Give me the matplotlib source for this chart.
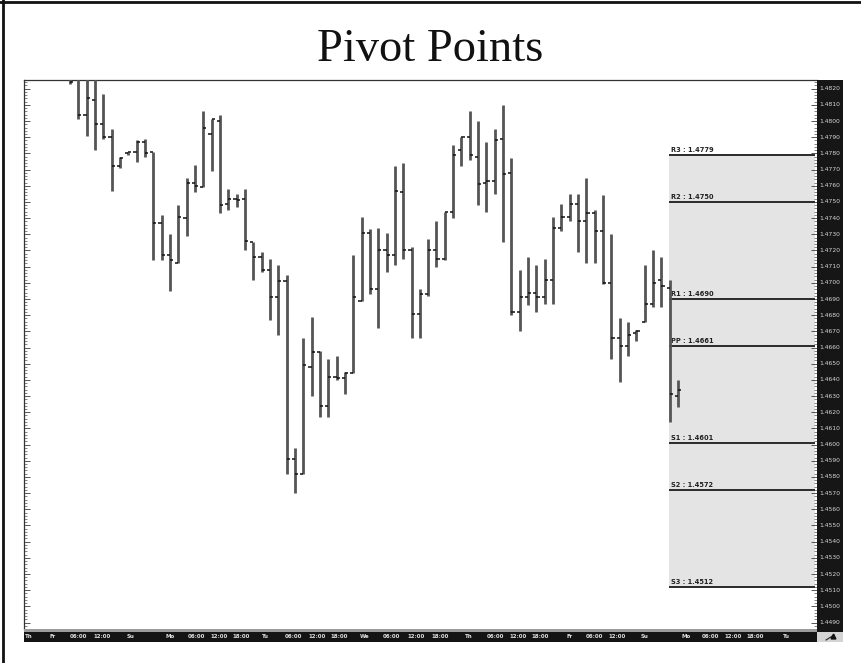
import matplotlib
matplotlib.use('Agg')
import matplotlib.pyplot as plt
import numpy as np
from matplotlib.lines import Line2D
from matplotlib.ticker import MultipleLocator

# ---------------- data ----------------
opens = [1.4828, 1.4830, 1.4804, 1.4813, 1.4798, 1.4790, 1.4772, 1.4780, 1.4781, 1.4787,
         1.4781, 1.4737, 1.4717, 1.4712, 1.4740, 1.4762, 1.4759, 1.4792, 1.4800, 1.4749,
         1.4752, 1.4752, 1.4725, 1.4716, 1.4708, 1.4691, 1.4701, 1.4591, 1.4582, 1.4648,
         1.4657, 1.4624, 1.4642, 1.4641, 1.4644, 1.4689, 1.4731, 1.4696, 1.4720, 1.4717,
         1.4756, 1.4720, 1.4681, 1.4693, 1.4720, 1.4715, 1.4744, 1.4782, 1.4790, 1.4778,
         1.4762, 1.4763, 1.4789, 1.4768, 1.4682, 1.4691, 1.4694, 1.4691, 1.4702, 1.4734,
         1.4741, 1.4749, 1.4738, 1.4743, 1.4732, 1.4700, 1.4666, 1.4661, 1.4669, 1.4676,
         1.4687, 1.4702, 1.4697, 1.4630]
highs = [1.4835, 1.4836, 1.4835, 1.4832, 1.4817, 1.4795, 1.4778, 1.4781, 1.4788, 1.4789,
         1.4781, 1.4742, 1.4730, 1.4748, 1.4765, 1.4773, 1.4806, 1.4801, 1.4804, 1.4758,
         1.4755, 1.4758, 1.4725, 1.4719, 1.4715, 1.4711, 1.4705, 1.4598, 1.4666, 1.4679,
         1.4658, 1.4653, 1.4655, 1.4645, 1.4717, 1.4741, 1.4733, 1.4734, 1.4731, 1.4772,
         1.4774, 1.4722, 1.4696, 1.4727, 1.4738, 1.4744, 1.4785, 1.4790, 1.4806, 1.4800,
         1.4787, 1.4795, 1.4810, 1.4777, 1.4708, 1.4716, 1.4711, 1.4715, 1.4741, 1.4749,
         1.4755, 1.4755, 1.4765, 1.4745, 1.4754, 1.4730, 1.4678, 1.4676, 1.4671, 1.4711,
         1.4720, 1.4716, 1.4702, 1.4640]
lows = [1.4823, 1.4801, 1.4791, 1.4782, 1.4789, 1.4757, 1.4771, 1.4779, 1.4775, 1.4778,
        1.4714, 1.4714, 1.4695, 1.4712, 1.4729, 1.4756, 1.4759, 1.4769, 1.4743, 1.4745,
        1.4747, 1.4720, 1.4702, 1.4707, 1.4677, 1.4668, 1.4582, 1.4570, 1.4582, 1.4630,
        1.4617, 1.4617, 1.4640, 1.4631, 1.4644, 1.4689, 1.4693, 1.4672, 1.4707, 1.4711,
        1.4715, 1.4666, 1.4666, 1.4692, 1.4710, 1.4714, 1.4740, 1.4772, 1.4776, 1.4748,
        1.4744, 1.4755, 1.4725, 1.4680, 1.4670, 1.4686, 1.4682, 1.4687, 1.4687, 1.4732,
        1.4738, 1.4719, 1.4712, 1.4712, 1.4699, 1.4653, 1.4639, 1.4655, 1.4664, 1.4676,
        1.4685, 1.4685, 1.4614, 1.4623]
closes = [1.4824, 1.4804, 1.4814, 1.4798, 1.4790, 1.4772, 1.4777, 1.4781, 1.4787, 1.4780,
          1.4737, 1.4717, 1.4714, 1.4741, 1.4762, 1.4760, 1.4796, 1.4801, 1.4748, 1.4752,
          1.4751, 1.4726, 1.4716, 1.4708, 1.4691, 1.4701, 1.4591, 1.4582, 1.4649, 1.4657,
          1.4624, 1.4642, 1.4641, 1.4644, 1.4691, 1.4731, 1.4696, 1.4720, 1.4717, 1.4757,
          1.4720, 1.4681, 1.4693, 1.4720, 1.4715, 1.4744, 1.4779, 1.4790, 1.4779, 1.4761,
          1.4763, 1.4788, 1.4767, 1.4682, 1.4691, 1.4694, 1.4691, 1.4702, 1.4734, 1.4741,
          1.4749, 1.4738, 1.4743, 1.4732, 1.4700, 1.4666, 1.4661, 1.4668, 1.4670, 1.4687,
          1.4700, 1.4698, 1.4631, 1.4634]

pivot_names = ['R3', 'R2', 'R1', 'PP', 'S1', 'S2', 'S3']
pivot_values = [1.4779, 1.4750, 1.4690, 1.4661, 1.4601, 1.4572, 1.4512]
pivot_start = 71.9          # bar index where the new session starts

time_labels = ['Th', 'Fr', '06:00', '12:00', 'Su', 'Mo', '06:00', '12:00', '18:00',
               'Tu', '06:00', '12:00', '18:00', 'We', '06:00', '12:00', '18:00',
               'Th', '06:00', '12:00', '18:00', 'Fr', '06:00', '12:00', 'Su',
               'Mo', '06:00', '12:00', '18:00', 'Tu']
time_positions = [-5.40, -2.40, 0.00, 2.76, 6.84, 11.52, 14.17, 16.81, 19.45,
                  23.05, 25.81, 28.57, 31.21, 34.81, 37.58, 40.46, 43.34,
                  47.42, 50.06, 52.70, 55.34, 59.66, 61.94, 64.59, 68.55,
                  73.47, 75.87, 78.51, 81.15, 85.59]

price_ticks = np.round(np.arange(1.4490, 1.48201, 0.001), 4)

# ---------------- layout ----------------
W, H = 861, 663
fig = plt.figure(figsize=(W / 100, H / 100), dpi=100)
fig.patch.set_facecolor('white')


def rect(x0, y0, x1, y1):
    return [x0 / W, 1 - y1 / H, (x1 - x0) / W, (y1 - y0) / H]


XLIM = (-5.52, 89.68)
YTOP = 1.48254
PXU = 16176.0  # pixels per price unit

# outer frame
fig.add_artist(Line2D([3 / W, 3 / W], [0, 1], color='#111111', lw=2, transform=fig.transFigure))
fig.add_artist(Line2D([0, 1], [1 - 2 / H, 1 - 2 / H], color='#111111', lw=2, transform=fig.transFigure))

fig.text(0.5, 1 - 61 / H, 'Pivot Points', ha='center', va='baseline',
         fontsize=33.5, family='Liberation Serif', color='#111111')

# main chart
ax = fig.add_axes(rect(24, 80, 817, 629))
ax.set_xlim(*XLIM)
ax.set_ylim(YTOP - 549 / PXU, YTOP)
ax.set_facecolor('white')
for s in ['right', 'bottom']:
    ax.spines[s].set_visible(False)
for s in ['top', 'left']:
    ax.spines[s].set_color('#333333')
    ax.spines[s].set_linewidth(0.9)
ax.set_xticks([])
ax.yaxis.set_major_locator(MultipleLocator(0.001))
ax.yaxis.set_minor_locator(MultipleLocator(0.0002))
ax.tick_params(axis='y', which='both', left=True, right=True, labelleft=False,
               labelright=False, direction='in', color='#555555')
ax.tick_params(axis='y', which='major', length=4, width=0.7)
ax.tick_params(axis='y', which='minor', length=2, width=0.5)

# pivot zone
xend = XLIM[1] - 0.25
ax.fill_between([pivot_start, xend], pivot_values[-1], pivot_values[0],
                color='#e4e4e4', lw=0, zorder=0)
ax.hlines(pivot_values, pivot_start, xend, colors='#2a2a2a', lw=1.4, zorder=2)
for n, v in zip(pivot_names, pivot_values):
    ax.annotate(f'{n} : {v:.4f}', xy=(pivot_start, v), xytext=(1.2, 1.3),
                textcoords='offset points', fontsize=4.8, fontweight='bold',
                color='#222222', ha='left', va='bottom', zorder=3)

# OHLC bars
idx = np.arange(len(opens))
ax.vlines(idx, lows, highs, colors='#555555', lw=2.0, zorder=3)
ax.hlines(opens, idx - 0.38, idx, colors='#111111', lw=1.1, zorder=4)
ax.hlines(closes, idx, idx + 0.38, colors='#111111', lw=1.1, zorder=4)

# right price strip
axr = fig.add_axes(rect(817, 80, 843, 632))
axr.set_facecolor('#161616')
axr.set_xlim(0, 1)
axr.set_ylim(YTOP - 552 / PXU, YTOP)
axr.set_xticks([])
axr.set_yticks([])
for s in axr.spines.values():
    s.set_visible(False)
for v in price_ticks:
    axr.text(0.07, v, f'{v:.4f}', color='#d8d8d8', fontsize=4.3,
             ha='left', va='center')

# bottom time strip
axb = fig.add_axes(rect(24, 629, 817, 642))
axb.set_xlim(*XLIM)
axb.set_ylim(0, 13)
axb.set_facecolor('#141414')
axb.axhspan(10, 13, color='#9c9c9c', lw=0)
axb.set_xticks([])
axb.set_yticks([])
for s in axb.spines.values():
    s.set_visible(False)
for lab, p in zip(time_labels, time_positions):
    axb.text(p, 5, lab, color='#e0e0e0', fontsize=4.0, fontweight='bold',
             ha='left', va='center')

# corner box
axc = fig.add_axes(rect(817, 632, 843, 642))
axc.set_facecolor('#d4d4d4')
axc.set_xlim(0, 1)
axc.set_ylim(0, 1)
axc.set_xticks([])
axc.set_yticks([])
for s in axc.spines.values():
    s.set_visible(False)
axc.plot([0.35, 0.65], [0.2, 0.7], color='#222222', lw=0.8)
axc.plot([0.6], [0.6], marker='^', color='#111111', markersize=3.5)

fig.savefig('out.png', dpi=100, facecolor='white')
